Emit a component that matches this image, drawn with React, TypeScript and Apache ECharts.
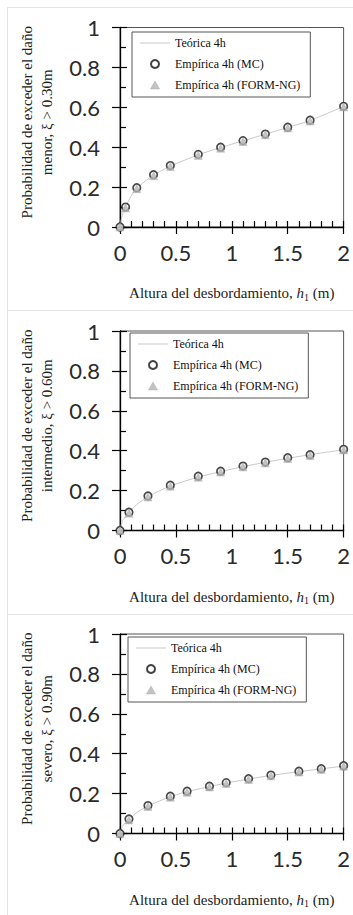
import React, { useEffect, useRef } from "react";
import * as echarts from "echarts";

// Panel titles (y-axis names)
const yTitles = [
  "Probabilidad de exceder el daño\nmenor, ξ > 0.30m",
  "Probabilidad de exceder el daño\nintermedio, ξ > 0.60m",
  "Probabilidad de exceder el daño\nsevero, ξ > 0.90m",
];
const seriesNames = ["Teórica 4h", "Empírica 4h (MC)", "Empírica 4h (FORM-NG)"];

// Panel 1: daño menor
const p1X = [0, 0.05, 0.15, 0.3, 0.45, 0.7, 0.9, 1.1, 1.3, 1.5, 1.7, 2.0];
const p1MC = [0, 0.1, 0.197, 0.262, 0.308, 0.364, 0.4, 0.433, 0.466, 0.5, 0.535, 0.605];
const p1FORM = [0, 0.095, 0.192, 0.257, 0.303, 0.359, 0.395, 0.429, 0.462, 0.496, 0.531, 0.602];
const p1TheoX = [0, 0.02, 0.05, 0.1, 0.15, 0.3, 0.45, 0.7, 0.9, 1.1, 1.3, 1.5, 1.7, 2.0];
const p1TheoY = [0, 0.06, 0.1, 0.155, 0.195, 0.26, 0.305, 0.362, 0.398, 0.432, 0.465, 0.499, 0.534, 0.604];

// Panel 2: daño intermedio
const p2X = [0, 0.08, 0.25, 0.45, 0.7, 0.9, 1.1, 1.3, 1.5, 1.7, 2.0];
const p2MC = [0, 0.092, 0.173, 0.227, 0.272, 0.297, 0.323, 0.343, 0.365, 0.38, 0.407];
const p2FORM = [0, 0.087, 0.168, 0.222, 0.267, 0.293, 0.319, 0.339, 0.361, 0.376, 0.404];
const p2TheoX = [0, 0.02, 0.08, 0.15, 0.25, 0.45, 0.7, 0.9, 1.1, 1.3, 1.5, 1.7, 2.0];
const p2TheoY = [0, 0.045, 0.09, 0.13, 0.17, 0.223, 0.268, 0.295, 0.32, 0.342, 0.362, 0.38, 0.405];

// Panel 3: daño severo
const p3X = [0, 0.08, 0.25, 0.45, 0.6, 0.8, 0.95, 1.15, 1.35, 1.6, 1.8, 2.0];
const p3MC = [0, 0.073, 0.14, 0.187, 0.212, 0.237, 0.255, 0.275, 0.293, 0.312, 0.325, 0.34];
const p3FORM = [0, 0.068, 0.135, 0.182, 0.207, 0.233, 0.251, 0.271, 0.289, 0.308, 0.322, 0.337];
const p3TheoX = [0, 0.02, 0.08, 0.15, 0.25, 0.45, 0.6, 0.8, 0.95, 1.15, 1.35, 1.6, 1.8, 2.0];
const p3TheoY = [0, 0.035, 0.07, 0.105, 0.138, 0.185, 0.21, 0.235, 0.253, 0.273, 0.291, 0.31, 0.324, 0.338];

const panels = [
  { x: p1X, mc: p1MC, form: p1FORM, tx: p1TheoX, ty: p1TheoY },
  { x: p2X, mc: p2MC, form: p2FORM, tx: p2TheoX, ty: p2TheoY },
  { x: p3X, mc: p3MC, form: p3FORM, tx: p3TheoX, ty: p3TheoY },
];

const gridTops = [27.5, 331, 634];
const gridHeight = 199.5;
const legendPos = [
  { left: 132, top: 32 },
  { left: 130, top: 333 },
  { left: 128, top: 637 },
];

const zip = (a: number[], b: number[]) => a.map((v, i) => [v, b[i]]);

export default function App() {
  const ref = useRef<HTMLDivElement>(null);
  useEffect(() => {
    if (!ref.current) return;
    const chart = echarts.init(ref.current, undefined, { renderer: "svg" });
    const serif = "Liberation Serif";
    const sans = "Lato";
    const axisColor = "#000";
    const lineGray = "#c8c8c8";
    const triGray = "#b4b4b4";

    const grids: any[] = [];
    const xAxes: any[] = [];
    const yAxes: any[] = [];
    const series: any[] = [];
    const legends: any[] = [];

    panels.forEach((p, i) => {
      grids.push({
        left: 120,
        width: 225,
        top: gridTops[i],
        height: gridHeight,
        show: true,
        borderColor: "#555",
        borderWidth: 1,
        backgroundColor: "transparent",
      });
      xAxes.push({
        type: "value",
        gridIndex: i,
        position: "bottom",
        min: 0,
        max: 2,
        interval: 0.5,
        axisLine: { lineStyle: { color: axisColor, width: 1.3 } },
        axisTick: { inside: true, length: 6, lineStyle: { color: axisColor, width: 1.2 } },
        minorTick: { show: true, splitNumber: 5, length: 6, lineStyle: { color: axisColor, width: 1.2 } },
        splitLine: { show: false },
        axisLabel: { fontFamily: sans, fontSize: 22, color: "#2a2a2a", margin: 14 },
        name: "{n|Altura del desbordamiento, }{i|h}{s|1}{n| (m)}",
        nameLocation: "middle",
        nameGap: 57,
        nameTextStyle: {
          rich: {
            n: { fontFamily: serif, fontSize: 15, color: "#222" },
            i: { fontFamily: serif, fontSize: 15, color: "#222", fontStyle: "italic" },
            s: { fontFamily: serif, fontSize: 10, color: "#222", padding: [8, 0, 0, 0] },
          },
        },
      });
      xAxes.push({
        type: "value",
        gridIndex: i,
        position: "bottom",
        min: 0,
        max: 2,
        interval: 0.5,
        axisLine: { show: false },
        axisTick: { inside: false, length: 7, lineStyle: { color: axisColor, width: 1.2 } },
        axisLabel: { show: false },
        splitLine: { show: false },
      });
      yAxes.push({
        type: "value",
        gridIndex: i,
        position: "left",
        min: 0,
        max: 1,
        interval: 0.2,
        axisLine: { lineStyle: { color: axisColor, width: 1.3 } },
        axisTick: { inside: true, length: 7, lineStyle: { color: axisColor, width: 1.2 } },
        minorTick: { show: true, splitNumber: 2, length: 6, lineStyle: { color: axisColor, width: 1.2 } },
        splitLine: { show: false },
        axisLabel: { fontFamily: sans, fontSize: 22, color: "#2a2a2a", margin: 20 },
        name: yTitles[i],
        nameLocation: "middle",
        nameRotate: 90,
        nameGap: 63,
        nameTextStyle: { fontFamily: serif, fontSize: 15, color: "#222", lineHeight: 20, padding: [0, 0, 0, 10] },
      });
      yAxes.push({
        type: "value",
        gridIndex: i,
        position: "left",
        min: 0,
        max: 1,
        interval: 0.2,
        axisLine: { show: false },
        axisTick: { inside: false, length: 8, lineStyle: { color: axisColor, width: 1.2 } },
        axisLabel: { show: false },
        splitLine: { show: false },
      });
      series.push({
        type: "line",
        name: seriesNames[0],
        xAxisIndex: 2 * i,
        yAxisIndex: 2 * i,
        data: zip(p.tx, p.ty),
        symbol: "none",
        smooth: 0.2,
        lineStyle: { color: lineGray, width: 1 },
        itemStyle: { color: lineGray },
        z: 2,
      });
      series.push({
        type: "scatter",
        name: seriesNames[1],
        xAxisIndex: 2 * i,
        yAxisIndex: 2 * i,
        data: zip(p.x, p.mc),
        symbol: "circle",
        symbolSize: 7.5,
        itemStyle: { color: "#fff", borderColor: "#1a1a1a", borderWidth: 1.7 },
        z: 3,
      });
      series.push({
        type: "scatter",
        name: seriesNames[2],
        xAxisIndex: 2 * i,
        yAxisIndex: 2 * i,
        data: zip(p.x, p.form),
        symbol: "triangle",
        symbolSize: 8,
        itemStyle: { color: triGray, borderColor: "#a6a6a6", borderWidth: 0.5 },
        z: 4,
      });
      legends.push({
        left: legendPos[i].left,
        top: legendPos[i].top,
        orient: "vertical",
        itemWidth: 30,
        itemHeight: 8,
        itemGap: 9,
        padding: [5, 10, 6, 8],
        borderColor: "#555",
        borderWidth: 1,
        backgroundColor: "#fff",
        selectedMode: false,
        textStyle: { fontFamily: serif, fontSize: 12, color: "#111", lineHeight: 12 },
        data: [
          { name: seriesNames[0], icon: "path://M0,0H30V1H0Z", itemStyle: { color: lineGray, borderWidth: 0 } },
          {
            name: seriesNames[1],
            icon: "circle",
            itemStyle: { color: "#fff", borderColor: "#111", borderWidth: 2 },
          },
          {
            name: seriesNames[2],
            icon: "path://M4,0L8,7L0,7Z",
            itemStyle: { color: triGray, borderColor: "#a6a6a6", borderWidth: 0.5 },
          },
        ],
      });
    });

    const sep = { stroke: "#e4e4e4", lineWidth: 1 };
    chart.setOption({
      animation: false,
      backgroundColor: "#fff",
      grid: grids,
      xAxis: xAxes,
      yAxis: yAxes,
      series,
      legend: legends,
      graphic: [
        { type: "line", shape: { x1: 7, y1: 7.5, x2: 353, y2: 7.5 }, style: sep, silent: true },
        { type: "line", shape: { x1: 7.5, y1: 7, x2: 7.5, y2: 915 }, style: sep, silent: true },
        { type: "line", shape: { x1: 7, y1: 310.5, x2: 353, y2: 310.5 }, style: sep, silent: true },
        { type: "line", shape: { x1: 7, y1: 614.5, x2: 353, y2: 614.5 }, style: sep, silent: true },
      ],
    });
    return () => chart.dispose();
  }, []);
  return (
    <div
      ref={ref}
      style={{ position: "absolute", left: 0, top: 0, width: 353, height: 915 }}
    />
  );
}
